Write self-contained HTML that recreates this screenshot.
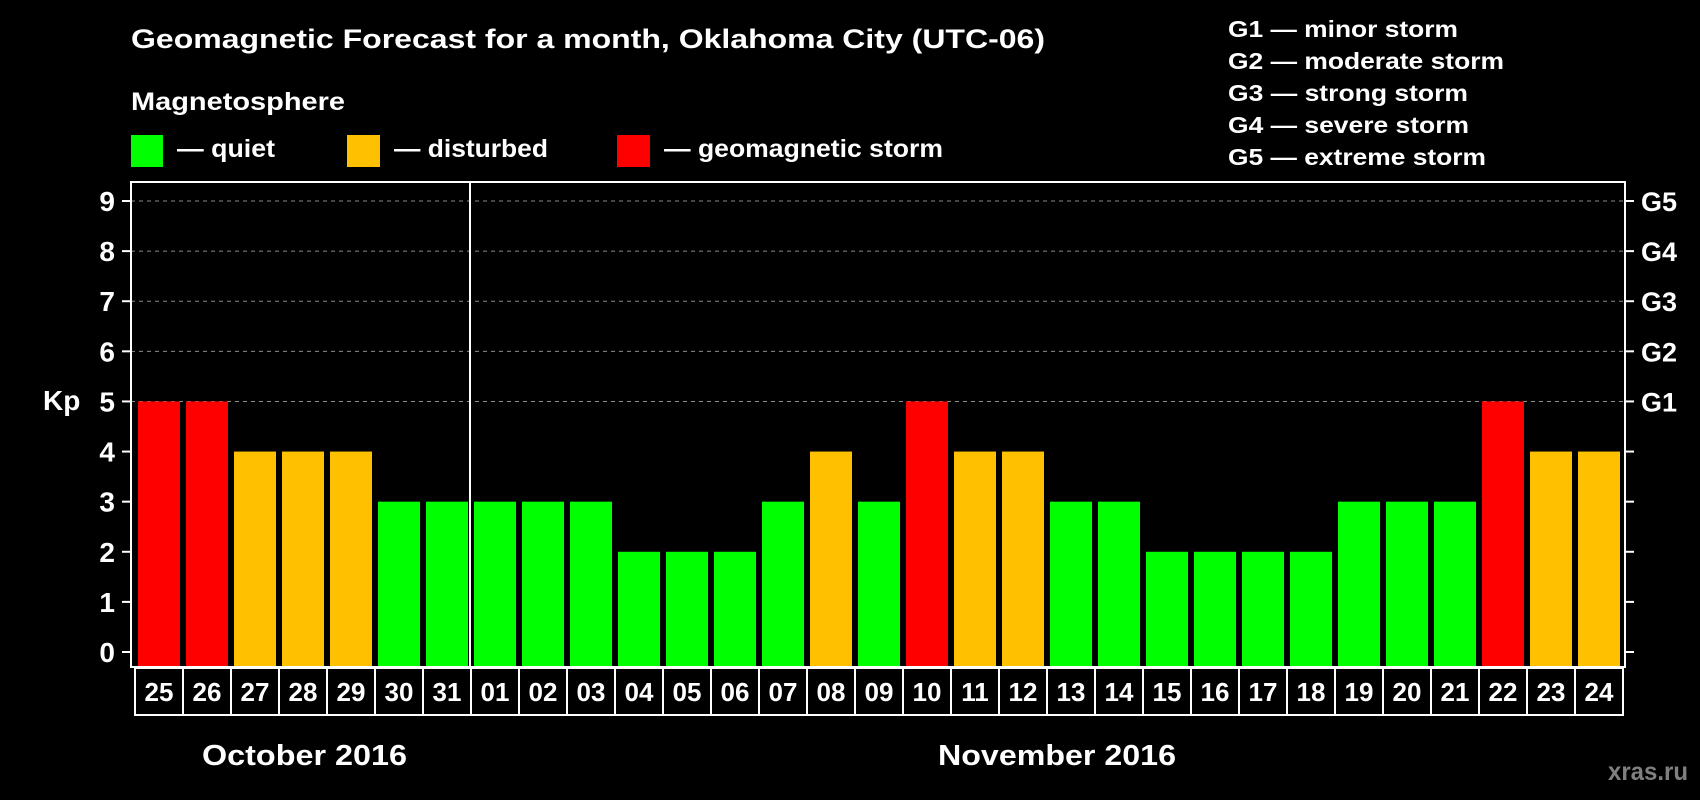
<!DOCTYPE html>
<html><head><meta charset="utf-8"><style>
html,body{margin:0;padding:0;background:#000;}
svg{display:block;font-family:"Liberation Sans",Arial,sans-serif;font-weight:bold;}
</style></head><body>
<svg id="chart" width="1700" height="800" viewBox="0 0 1700 800" xmlns="http://www.w3.org/2000/svg">
<rect x="0" y="0" width="1700" height="800" fill="#000"/>
<text x="131" y="48" fill="#fff" font-size="27" textLength="914" lengthAdjust="spacingAndGlyphs">Geomagnetic Forecast for a month, Oklahoma City (UTC-06)</text>
<text x="131" y="110" fill="#fff" font-size="25" textLength="214" lengthAdjust="spacingAndGlyphs">Magnetosphere</text>
<g>
<rect x="131" y="135" width="32" height="32" fill="#00ff00"/>
<text x="177" y="157" fill="#fff" font-size="25" textLength="98" lengthAdjust="spacingAndGlyphs">— quiet</text>
</g>
<g>
<rect x="347" y="135" width="33" height="32" fill="#ffc000"/>
<text x="394" y="157" fill="#fff" font-size="25" textLength="154" lengthAdjust="spacingAndGlyphs">— disturbed</text>
</g>
<g>
<rect x="617" y="135" width="33" height="32" fill="#ff0000"/>
<text x="664" y="157" fill="#fff" font-size="25" textLength="279" lengthAdjust="spacingAndGlyphs">— geomagnetic storm</text>
</g>
<g font-size="23" fill="#fff">
<text x="1228" y="37" textLength="230" lengthAdjust="spacingAndGlyphs">G1 — minor storm</text>
<text x="1228" y="69" textLength="276" lengthAdjust="spacingAndGlyphs">G2 — moderate storm</text>
<text x="1228" y="101" textLength="240" lengthAdjust="spacingAndGlyphs">G3 — strong storm</text>
<text x="1228" y="133" textLength="241" lengthAdjust="spacingAndGlyphs">G4 — severe storm</text>
<text x="1228" y="165" textLength="258" lengthAdjust="spacingAndGlyphs">G5 — extreme storm</text>
</g>
<text x="43" y="410" fill="#fff" font-size="28">Kp</text>
<g id="grid"></g>
<g id="bars"></g>
<g id="axes"></g>
<text x="202" y="765" fill="#fff" font-size="29" textLength="205" lengthAdjust="spacingAndGlyphs">October 2016</text>
<text x="938" y="765" fill="#fff" font-size="29" textLength="238" lengthAdjust="spacingAndGlyphs">November 2016</text>
<text x="1608" y="780" fill="#808080" font-size="25" textLength="80" lengthAdjust="spacingAndGlyphs">xras.ru</text>
</svg>
<script>
const days = ["25","26","27","28","29","30","31","01","02","03","04","05","06","07","08","09","10","11","12","13","14","15","16","17","18","19","20","21","22","23","24"];
const kpValues = [5,5,4,4,4,3,3,3,3,3,2,2,2,3,4,3,5,4,4,3,3,2,2,2,2,3,3,3,5,4,4];
const yTicks = [0,1,2,3,4,5,6,7,8,9];
const gLabels = ["G1","G2","G3","G4","G5"];
const gLevels = [5,6,7,8,9];
const monthSplitIndex = 7;

const NS = "http://www.w3.org/2000/svg";
const PL = 131, PR = 1625, PT = 182, PB = 667;
const X0 = 135, STEP = 48, BW = 42;
const yScale = v => 652 - v * (652 - 201) / 9;
const xScale = i => X0 + i * STEP;
function mk(tag, attrs, parent){ const e = document.createElementNS(NS, tag); for (const k in attrs) e.setAttribute(k, attrs[k]); parent.appendChild(e); return e; }
function color(v){ return v >= 5 ? "#ff0000" : (v >= 4 ? "#ffc000" : "#00ff00"); }

const grid = document.getElementById("grid");
gLevels.forEach(v => {
  const l = mk("line", {x1: PL, x2: PR, y1: yScale(v), y2: yScale(v), stroke: "#8c8c8c", "stroke-width": 1, "stroke-dasharray": "4,4"}, grid);
  
  
});

const bars = document.getElementById("bars");
kpValues.forEach((v, i) => {
  const r = mk("rect", {x: xScale(i) + 3, y: yScale(v), width: BW, height: PB - yScale(v), fill: color(v)}, bars);
  
  
});

const axes = document.getElementById("axes");
const frame = mk("rect", {x: PL, y: PT, width: PR - PL, height: PB - PT, fill: "none", stroke: "#fff", "stroke-width": 2}, axes);


const sx = xScale(monthSplitIndex) - 1;
const split = mk("line", {x1: sx, x2: sx, y1: PT, y2: PB, stroke: "#fff", "stroke-width": 2}, axes);



yTicks.forEach(v => {
  const y = yScale(v);
  const t1 = mk("line", {x1: 122, x2: PL, y1: y, y2: y, stroke: "#fff", "stroke-width": 2}, axes);
  
  
  const t2 = mk("line", {x1: PR, x2: 1634, y1: y, y2: y, stroke: "#fff", "stroke-width": 2}, axes);
  
  
  const lb = mk("text", {x: 115, y: y + 10, fill: "#fff", "font-size": 28, "text-anchor": "end"}, axes);
  lb.textContent = v;
  
  
});
gLevels.forEach((v, i) => {
  const lb = mk("text", {x: 1641, y: yScale(v) + 10, fill: "#fff", "font-size": 27}, axes);
  lb.textContent = gLabels[i];
  
  
});

days.forEach((d, i) => {
  const cell = mk("rect", {x: xScale(i), y: 668, width: STEP, height: 47, fill: "#000", stroke: "#fff", "stroke-width": 2}, axes);
  
  
  const t = mk("text", {x: xScale(i) + STEP / 2, y: 701, fill: "#fff", "font-size": 26, "text-anchor": "middle"}, axes);
  t.textContent = d;
  
  
});
</script>
</body></html>
